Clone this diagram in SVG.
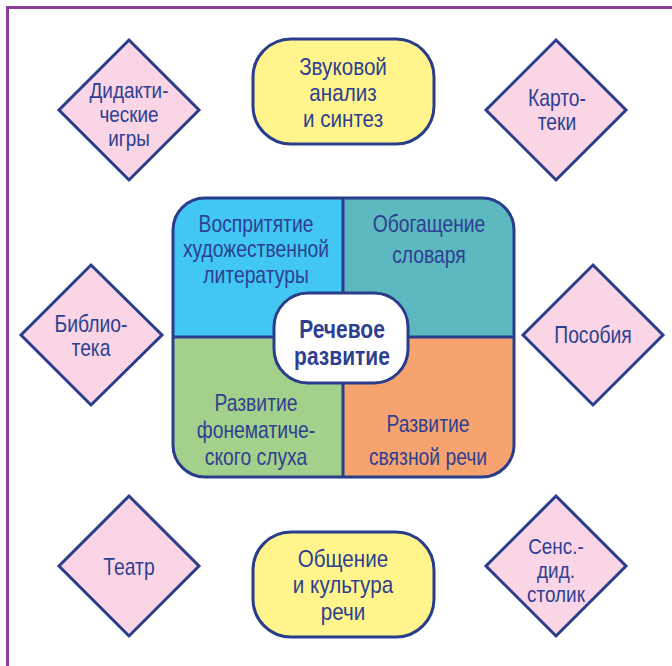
<svg xmlns="http://www.w3.org/2000/svg" width="672" height="666" viewBox="0 0 672 666">
<defs>
<style>
.t{font-family:'Liberation Sans',Arial,sans-serif;font-size:23px;fill:#2E3F91;text-anchor:middle}
.s{font-size:22px}
.y{font-size:24px}
.b{font-weight:bold;font-size:25px}
.dia{fill:#F9D5E5;stroke:#2A3D8B;stroke-width:3;stroke-linejoin:miter}
.yel{fill:#FFF58C;stroke:#2A3D8B;stroke-width:3}
.ln{stroke:#2A3D8B;stroke-width:3;fill:none}
</style>
<clipPath id="cc"><rect x="173" y="198" width="341" height="279" rx="32"/></clipPath>
</defs>
<rect width="672" height="666" fill="#fff"/>
<rect x="7.5" y="7.5" width="720" height="720" fill="none" stroke="#8B3F9B" stroke-width="3"/>
<g id="connectors"/>
<g id="didakt">
<polygon class="dia" points="129,40 199,110 129,180 59,110"/>
<text class="t s" transform="matrix(0.86 0 0 1 129 0)"><tspan x="0" y="98">Дидакти-</tspan><tspan x="0" y="122">ческие</tspan><tspan x="0" y="146">игры</tspan></text>
</g>
<g id="zvuk">
<rect class="yel" x="253" y="39" width="181" height="105" rx="38"/>
<text class="t y" transform="matrix(0.86 0 0 1 343 0)"><tspan x="0" y="75">Звуковой</tspan><tspan x="0" y="101">анализ</tspan><tspan x="0" y="127">и синтез</tspan></text>
</g>
<g id="kartoteki">
<polygon class="dia" points="556,40 626,110 556,180 486,110"/>
<text class="t" transform="matrix(0.84 0 0 1 557 0)"><tspan x="0" y="106">Карто-</tspan><tspan x="0" y="130">теки</tspan></text>
</g>
<g id="biblioteka">
<polygon class="dia" points="91,265 162,335 91,405 21,335"/>
<text class="t" transform="matrix(0.84 0 0 1 91 0)"><tspan x="0" y="332">Библио-</tspan><tspan x="0" y="356">тека</tspan></text>
</g>
<g id="posobiya">
<polygon class="dia" points="593,265 663,335 593,405 523,335"/>
<text class="t" transform="matrix(0.84 0 0 1 593 0)" x="0" y="343">Пособия</text>
</g>
<g id="center">
<g clip-path="url(#cc)">
<rect x="173" y="198" width="170" height="139" fill="#41C7F2"/>
<rect x="343" y="198" width="171" height="139" fill="#5BB9BF"/>
<rect x="173" y="337" width="170" height="140" fill="#A3D08A"/>
<rect x="343" y="337" width="171" height="140" fill="#F7A36F"/>
</g>
<line class="ln" x1="343" y1="198" x2="343" y2="477"/>
<line class="ln" x1="173" y1="337" x2="514" y2="337"/>
<rect class="ln" x="173" y="198" width="341" height="279" rx="32"/>
<text class="t" transform="matrix(0.84 0 0 1 256 0)"><tspan x="0" y="232">Воспритятие</tspan><tspan x="0" y="257">художественной</tspan><tspan x="0" y="283">литературы</tspan></text>
<text class="t" transform="matrix(0.84 0 0 1 429 0)"><tspan x="0" y="232">Обогащение</tspan><tspan x="0" y="263">словаря</tspan></text>
<text class="t" transform="matrix(0.84 0 0 1 256 0)"><tspan x="0" y="411">Развитие</tspan><tspan x="0" y="438">фонематиче-</tspan><tspan x="0" y="465">ского слуха</tspan></text>
<text class="t" transform="matrix(0.84 0 0 1 428 0)"><tspan x="0" y="432">Развитие</tspan><tspan x="0" y="465">связной речи</tspan></text>
<rect x="274" y="293" width="134" height="90" rx="34" fill="#fff" stroke="#2A3D8B" stroke-width="3"/>
<text class="t b" transform="matrix(0.84 0 0 1 342 0)"><tspan x="0" y="338">Речевое</tspan><tspan x="0" y="365">развитие</tspan></text>
</g>
<g id="teatr">
<polygon class="dia" points="129,496 199,566 129,636 59,566"/>
<text class="t" transform="matrix(0.84 0 0 1 129 0)" x="0" y="575">Театр</text>
</g>
<g id="obshchenie">
<rect class="yel" x="253" y="532" width="181" height="105" rx="38"/>
<text class="t y" transform="matrix(0.86 0 0 1 343 0)"><tspan x="0" y="567">Общение</tspan><tspan x="0" y="593">и культура</tspan><tspan x="0" y="620">речи</tspan></text>
</g>
<g id="sens">
<polygon class="dia" points="556,496 626,566 556,636 486,566"/>
<text class="t s" transform="matrix(0.86 0 0 1 556 0)"><tspan x="0" y="554">Сенс.-</tspan><tspan x="0" y="578">дид.</tspan><tspan x="0" y="602">столик</tspan></text>
</g>
</svg>
